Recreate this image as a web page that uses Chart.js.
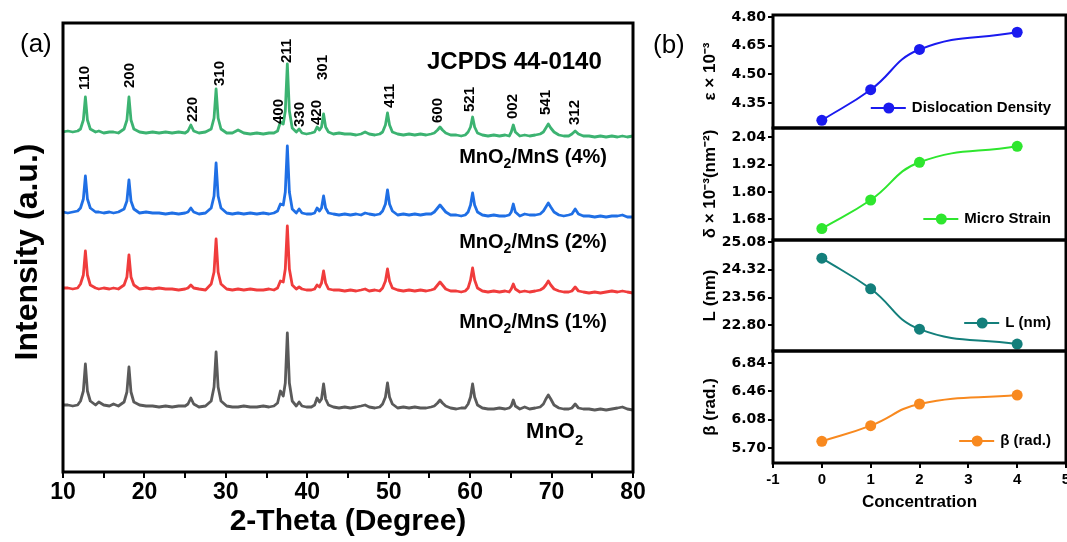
<!DOCTYPE html>
<html>
<head>
<meta charset="utf-8">
<title>MnO2 / MnS XRD</title>
<script src="https://cdn.jsdelivr.net/npm/chart.js@4.4.1/dist/chart.umd.min.js"></script>
<style>
  html, body { margin: 0; padding: 0; background: #fff; width: 1067px; height: 542px; overflow: hidden; }
  canvas { position: absolute; }
</style>
</head>
<body>
<canvas id="xrd" width="660" height="542" style="left:0;top:0"></canvas>
<canvas id="p1" width="440" height="143" style="left:640px;top:0"></canvas>
<canvas id="p2" width="440" height="142" style="left:640px;top:113px"></canvas>
<canvas id="p3" width="440" height="141" style="left:640px;top:225px"></canvas>
<canvas id="p4" width="440" height="206" style="left:640px;top:336px"></canvas>
<script>
// ---- panel (a): XRD patterns ----
// 2-theta grid shared by all four patterns
const twoTheta = [10, 10.6, 11.2, 11.8, 12.15, 12.5, 12.75, 13.0, 13.35, 14.0,
  14.4, 15.0, 15.7, 16.2, 16.8, 17.5, 17.85, 18.1, 18.35, 18.7,
  19.4, 20.2, 21.0, 21.8, 22.6, 23.4, 24.2, 25.0, 25.35, 25.7,
  26.05, 26.7, 27.5, 28.2, 28.55, 28.8, 29.05, 29.4, 30.1, 30.8,
  31.5, 32.2, 33.0, 33.8, 34.6, 35.3, 35.9, 36.35, 36.7, 37.05,
  37.3, 37.55, 37.8, 38.15, 38.65, 39.0, 39.35, 39.9, 40.5, 40.9,
  41.2, 41.5, 41.75, 42.0, 42.25, 42.6, 43.2, 43.9, 44.6, 45.3,
  46.0, 46.6, 47.1, 47.6, 48.3, 48.9, 49.25, 49.6, 49.85, 50.1,
  50.45, 51.1, 51.8, 52.5, 53.2, 53.9, 54.6, 55.2, 55.6, 56.0,
  56.3, 56.6, 57.0, 57.6, 58.3, 58.9, 59.4, 59.75, 60.05, 60.3,
  60.55, 60.9, 61.5, 62.2, 62.9, 63.6, 64.3, 64.8, 65.05, 65.3,
  65.55, 66.1, 66.7, 67.3, 68.0, 68.6, 69.0, 69.3, 69.6, 69.9,
  70.3, 70.9, 71.5, 72.1, 72.5, 72.9, 73.3, 73.9, 74.6, 75.3,
  76.0, 76.7, 77.4, 78.1, 78.7, 79.3, 80];

const intMnO2 = [5, 5, 4, 5, 9, 19, 46, 19, 9, 5,
  8, 5, 4, 6, 4, 8, 18, 43, 18, 8,
  5, 4, 4, 3, 4, 3, 4, 4, 6, 12,
  6, 3, 4, 9, 23, 58, 23, 9, 4, 3,
  3, 4, 3, 3, 4, 3, 4, 7, 19, 14,
  27, 77, 27, 9, 4, 8, 4, 3, 3, 5,
  12, 8, 11, 26, 11, 5, 3, 2, 3, 2,
  3, 4, 5, 3, 2, 3, 6, 13, 27, 13,
  6, 2, 3, 2, 3, 2, 2, 3, 4, 7,
  10, 7, 4, 2, 1, 2, 2, 6, 13, 26,
  13, 5, 2, 1, 1, 2, 1, 2, 4, 10,
  4, 1, 3, 1, 2, 3, 6, 11, 15, 11,
  5, 2, 1, 1, 2, 6, 2, 1, 1, 0,
  1, 0, 1, 2, 3, 1, 0];

const intMnS1 = [5, 5, 4, 5, 9, 18, 42, 18, 8, 5,
  4, 5, 4, 5, 4, 8, 16, 38, 16, 8,
  4, 5, 4, 5, 4, 4, 3, 4, 5, 8,
  5, 4, 3, 9, 21, 54, 21, 9, 4, 3,
  4, 3, 4, 3, 3, 4, 3, 5, 12, 11,
  24, 67, 24, 8, 4, 6, 4, 3, 3, 4,
  8, 6, 10, 22, 10, 4, 3, 3, 2, 3,
  2, 3, 4, 2, 3, 2, 5, 12, 24, 12,
  5, 3, 2, 3, 2, 3, 2, 3, 4, 8,
  11, 8, 4, 2, 2, 1, 2, 5, 13, 25,
  13, 5, 2, 1, 2, 1, 2, 1, 4, 9,
  4, 1, 2, 1, 2, 3, 5, 8, 12, 8,
  4, 2, 1, 1, 2, 6, 2, 1, 0, 1,
  0, 1, 2, 1, 2, 1, 0];

const intMnS2 = [5, 4, 5, 6, 9, 18, 41, 18, 9, 5,
  5, 4, 5, 4, 5, 8, 16, 37, 16, 8,
  4, 5, 4, 4, 3, 4, 3, 4, 5, 9,
  5, 3, 4, 9, 21, 54, 21, 9, 4, 3,
  4, 3, 4, 3, 4, 3, 4, 6, 13, 12,
  25, 71, 25, 8, 4, 8, 4, 3, 3, 4,
  9, 6, 9, 21, 9, 4, 3, 2, 3, 2,
  3, 2, 4, 3, 2, 3, 6, 13, 27, 13,
  6, 2, 3, 2, 3, 2, 3, 3, 5, 9,
  12, 9, 5, 2, 2, 1, 2, 5, 12, 24,
  12, 5, 2, 1, 2, 1, 1, 2, 5, 13,
  5, 1, 3, 2, 2, 3, 6, 10, 14, 10,
  5, 2, 1, 2, 3, 8, 3, 1, 1, 0,
  1, 0, 1, 1, 2, 0, 0];

const intMnS4 = [5, 6, 5, 6, 8, 17, 40, 17, 8, 5,
  6, 4, 5, 5, 4, 8, 17, 40, 17, 8,
  5, 4, 5, 4, 5, 4, 5, 4, 6, 12,
  6, 4, 5, 8, 19, 48, 19, 8, 4, 4,
  7, 4, 3, 4, 3, 4, 4, 6, 15, 13,
  26, 73, 26, 9, 5, 8, 4, 3, 4, 5,
  10, 7, 10, 23, 10, 5, 3, 4, 3, 3,
  2, 3, 5, 3, 2, 3, 5, 12, 24, 12,
  5, 3, 2, 3, 2, 3, 2, 3, 4, 7,
  10, 7, 4, 2, 2, 1, 2, 5, 10, 20,
  10, 4, 2, 1, 2, 1, 2, 1, 5, 12,
  5, 1, 2, 1, 2, 3, 5, 9, 13, 9,
  5, 2, 1, 1, 3, 6, 3, 1, 1, 0,
  1, 0, 1, 0, 1, 0, 1];

const sampleNames = ['MnO2', 'MnO2/MnS (1%)', 'MnO2/MnS (2%)', 'MnO2/MnS (4%)'];
const stackOffsets = [62, 179, 255, 335];
const xrdTicks = [10, 15, 20, 25, 30, 35, 40, 45, 50, 55, 60, 65, 70, 75, 80];

// reflections of JCPDS 44-0140
const hklLabels = ['110', '200', '220', '310', '400', '211', '330', '420', '301', '411', '600', '521', '002', '541', '312'];
const hklPositions = [12.7, 18.2, 25.95, 29.3, 36.5, 37.5, 39.1, 41.2, 41.9, 50.15, 56.05, 60.0, 65.25, 69.3, 72.9];

// ---- panel (b): vs concentration ----
const concentration = [0, 1, 2, 4];
const dislocation = [4.26, 4.42, 4.63, 4.72];
const microStrain = [1.64, 1.765, 1.93, 2.0];
const crystalSize = [24.64, 23.80, 22.69, 22.28];
const betaRad = [5.79, 6.00, 6.29, 6.41];
const concTicks = [-1, 0, 1, 2, 3, 4, 5];
const dislocationTicks = [4.35, 4.50, 4.65, 4.80];
const strainTicks = [1.68, 1.80, 1.92, 2.04];
const sizeTicks = [22.80, 23.56, 24.32, 25.08];
const betaTicks = [5.70, 6.08, 6.46, 6.84];

// label placement (y in the stacked axis units)
const hklLabelBase = [382, 384, 350, 386, 348, 409, 345, 347, 392, 364, 349, 360, 353, 357, 347];
const sampleLabelAt = [{x: 73.9, y: 40}, {x: 76.8, y: 150}, {x: 76.8, y: 230}, {x: 76.8, y: 315}];

const FONT = '"Liberation Sans", Arial, Helvetica, sans-serif';
Chart.defaults.font.family = FONT;
Chart.defaults.color = '#000';

const frame = {
  id: 'frame',
  afterDraw(chart) {
    const {ctx, chartArea: a} = chart;
    ctx.save();
    ctx.strokeStyle = '#000';
    ctx.lineWidth = 3;
    ctx.strokeRect(a.left, a.top, a.right - a.left, a.bottom - a.top);
    ctx.restore();
  }
};

// writes "MnO2..." with the 2 as subscript, right aligned
function drawFormula(ctx, text, xRight, yMid, size) {
  let parts = [[text, false]];
  const k = text.indexOf('O2');
  if (k >= 0) parts = [[text.slice(0, k + 1), false], ['2', true], [text.slice(k + 2), false]];
  const big = 'bold ' + size + 'px ' + FONT;
  const small = 'bold ' + Math.round(size * 0.68) + 'px ' + FONT;
  let total = 0;
  parts.forEach(p => { ctx.font = p[1] ? small : big; total += ctx.measureText(p[0]).width; });
  let x = xRight - total;
  ctx.textAlign = 'left';
  ctx.textBaseline = 'middle';
  parts.forEach(p => {
    ctx.font = p[1] ? small : big;
    ctx.fillText(p[0], x, p[1] ? yMid + size * 0.38 : yMid);
    x += ctx.measureText(p[0]).width;
  });
}

const xrdText = {
  id: 'xrdText',
  afterDraw(chart) {
    const {ctx, scales: {x, y}} = chart;
    ctx.save();
    ctx.fillStyle = '#000';

    // hkl indices, rotated
    ctx.font = 'bold 15px ' + FONT;
    ctx.textAlign = 'left';
    ctx.textBaseline = 'middle';
    hklLabels.forEach((t, i) => {
      ctx.save();
      ctx.translate(x.getPixelForValue(hklPositions[i]), y.getPixelForValue(hklLabelBase[i]));
      ctx.rotate(-Math.PI / 2);
      ctx.fillText(t, 0, 0);
      ctx.restore();
    });

    ctx.font = 'bold 24px ' + FONT;
    ctx.fillText('JCPDS 44-0140', 427, 62);

    sampleNames.forEach((name, i) => {
      drawFormula(ctx, name, x.getPixelForValue(sampleLabelAt[i].x), y.getPixelForValue(sampleLabelAt[i].y), i === 0 ? 22 : 20);
    });

    ctx.font = '26px ' + FONT;
    ctx.fillText('(a)', 20, 45);

    // y title
    ctx.save();
    ctx.translate(28, 252);
    ctx.rotate(-Math.PI / 2);
    ctx.textAlign = 'center';
    ctx.font = 'bold 32px ' + FONT;
    ctx.fillText('Intensity (a.u.)', 0, 0);
    ctx.restore();
    ctx.restore();
  }
};

const traceColors = ['#5a5a5a', '#f03c3c', '#1f6fe5', '#3cb371'];
const patterns = [intMnO2, intMnS1, intMnS2, intMnS4];

new Chart(document.getElementById('xrd'), {
  type: 'line',
  data: {
    datasets: patterns.map((vals, s) => ({
      label: sampleNames[s],
      data: twoTheta.map((t, i) => ({x: t, y: vals[i] + stackOffsets[s]})),
      borderColor: traceColors[s],
      borderWidth: 2.8,
      pointRadius: 0,
      tension: 0,
      borderJoinStyle: 'round'
    }))
  },
  options: {
    responsive: false,
    animation: false,
    devicePixelRatio: 1,
    layout: { padding: { left: 63, right: 27, top: 23, bottom: 0 } },
    plugins: { legend: { display: false }, tooltip: { enabled: false } },
    scales: {
      x: {
        type: 'linear', min: 10, max: 80,
        afterBuildTicks: s => { s.ticks = xrdTicks.map(v => ({value: v})); },
        afterFit: s => { s.height = 70; },
        grid: { drawOnChartArea: false, color: '#000', lineWidth: 2, tickLength: 6 },
        border: { display: false },
        ticks: {
          autoSkip: false, maxRotation: 0, padding: 1, color: '#000',
          font: { size: 23, weight: 'bold' },
          callback: v => (v % 10 === 0 ? v : '')
        },
        title: { display: true, text: '2-Theta (Degree)', color: '#000', font: { size: 30, weight: 'bold' }, padding: { top: 0, bottom: 2 } }
      },
      y: { display: false, min: 0, max: 449 }
    }
  },
  plugins: [frame, xrdText]
});

// ---- panel (b) ----
const innerLegend = {
  id: 'innerLegend',
  afterDraw(chart, args, opts) {
    const {ctx, chartArea: a} = chart;
    ctx.save();
    ctx.font = 'bold 15px ' + FONT;
    const w = ctx.measureText(opts.text).width;
    const tx = a.right - 15 - w;
    const ty = a.bottom - opts.lift;
    ctx.strokeStyle = opts.color;
    ctx.fillStyle = opts.color;
    ctx.lineWidth = 2;
    ctx.beginPath(); ctx.moveTo(tx - 41, ty); ctx.lineTo(tx - 6, ty); ctx.stroke();
    ctx.beginPath(); ctx.arc(tx - 23, ty, 5.5, 0, Math.PI * 2); ctx.fill();
    ctx.fillStyle = '#000';
    ctx.textBaseline = 'middle';
    ctx.fillText(opts.text, tx, ty);
    if (opts.tag) {
      ctx.font = '26px ' + FONT;
      ctx.fillText(opts.tag, 13, 46);
    }
    ctx.restore();
  }
};

function panel(id, values, yTicks, yMin, yMax, color, yTitle, legendText, lift, last, tag) {
  return new Chart(document.getElementById(id), {
    type: 'line',
    data: {
      datasets: [{
        label: legendText,
        data: concentration.map((c, i) => ({x: c, y: values[i]})),
        borderColor: color,
        backgroundColor: color,
        borderWidth: 2,
        pointRadius: 5.5,
        pointBorderWidth: 0,
        tension: 0.45
      }]
    },
    options: {
      responsive: false,
      animation: false,
      devicePixelRatio: 1,
      layout: { padding: { left: 0, right: 14, top: 15, bottom: last ? 0 : 15 } },
      plugins: {
        legend: { display: false },
        tooltip: { enabled: false },
        innerLegend: { text: legendText, color: color, lift: lift, tag: tag }
      },
      scales: {
        x: {
          type: 'linear', min: -1, max: 5, display: last,
          afterBuildTicks: s => { s.ticks = concTicks.map(v => ({value: v})); },
          afterFit: s => { s.height = last ? 79 : 0; },
          grid: { drawOnChartArea: false, color: '#000', lineWidth: 2, tickLength: 5 },
          border: { display: false },
          ticks: { autoSkip: false, maxRotation: 0, padding: 3, color: '#000', font: { size: 15, weight: 'bold' } },
          title: { display: true, text: 'Concentration', color: '#000', font: { size: 17, weight: 'bold' }, padding: { top: 0, bottom: 29 } }
        },
        y: {
          min: yMin, max: yMax,
          afterBuildTicks: s => { s.ticks = yTicks.map(v => ({value: v})); },
          afterFit: s => { s.width = 133; },
          grid: { drawOnChartArea: false, color: '#000', lineWidth: 2, tickLength: 5 },
          border: { display: false },
          ticks: { padding: 2, color: '#000', font: { family: '"DejaVu Sans", sans-serif', size: 14, weight: 'bold' }, callback: v => v.toFixed(2) },
          title: { display: true, text: yTitle, color: '#000', font: { size: 17, weight: 'bold' }, padding: { top: 60, bottom: 0 } }
        }
      }
    },
    plugins: [frame, innerLegend]
  });
}

panel('p1', dislocation, dislocationTicks, 4.22, 4.81, '#1a1aef', 'ε × 10⁻³', 'Dislocation Density', 20, false, '(b)');
panel('p2', microStrain, strainTicks, 1.59, 2.08, '#2ee62e', 'δ × 10⁻³(nm⁻²)', 'Micro Strain', 21, false);
panel('p3', crystalSize, sizeTicks, 22.09, 25.14, '#137f7b', 'L (nm)', 'L (nm)', 28, false);
panel('p4', betaRad, betaTicks, 5.50, 7.00, '#f8891f', 'β (rad.)', 'β (rad.)', 22, true);
</script>
</body>
</html>
